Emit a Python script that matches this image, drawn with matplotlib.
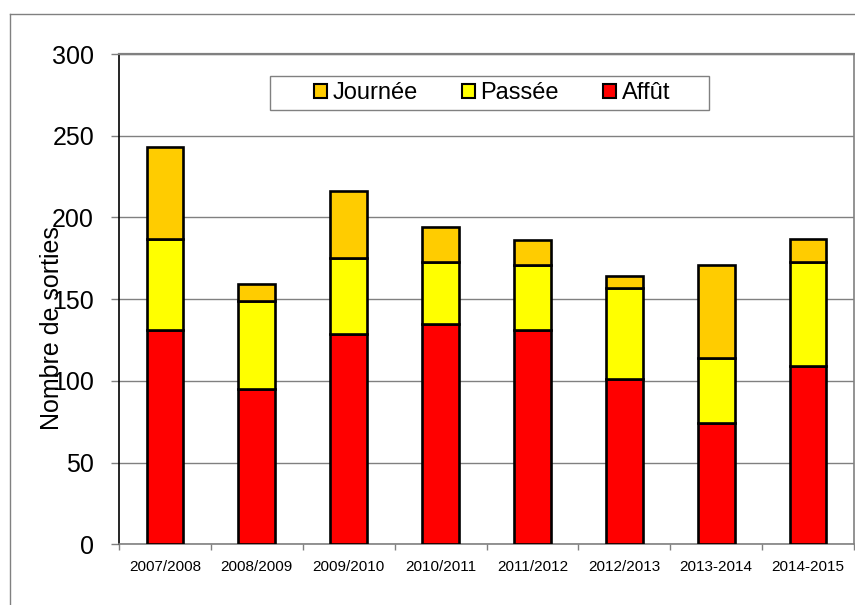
import numpy as np
import matplotlib.pyplot as plt
from matplotlib.patches import Rectangle
from matplotlib.lines import Line2D
from matplotlib.ticker import FixedLocator

plt.rcParams['font.family'] = ['Liberation Sans', 'DejaVu Sans']

# data
saisons = ['2007/2008', '2008/2009', '2009/2010', '2010/2011',
           '2011/2012', '2012/2013', '2013-2014', '2014-2015']
affut = [131, 95, 129, 135, 131, 101, 74, 109]
passee = [56, 54, 46, 38, 40, 56, 40, 64]
journee = [56, 10, 41, 21, 15, 7, 57, 14]

fig = plt.figure(figsize=(8.55, 6.05), dpi=100)
ax = fig.add_axes([119/855, 1-544.4/605, (854-119)/855, (544.4-54)/605])

x = np.arange(len(saisons))
w = 0.40
bot2 = np.array(affut)
bot3 = bot2 + np.array(passee)

b1 = ax.bar(x, affut, w, color='#FF0000', edgecolor='black', linewidth=1.9, zorder=3, label='Affût')
b2 = ax.bar(x, passee, w, bottom=bot2, color='#FFFF00', edgecolor='black', linewidth=1.9, zorder=3, label='Passée')
b3 = ax.bar(x, journee, w, bottom=bot3, color='#FFCC00', edgecolor='black', linewidth=1.9, zorder=3, label='Journée')

ax.set_xlim(-0.5, len(saisons) - 0.5)
ax.set_ylim(0, 300)
ax.set_yticks(range(0, 301, 50))
ax.tick_params(axis='y', labelsize=18, length=6, width=1, color='#808080', pad=12)
ax.yaxis.grid(True, color='#808080', linewidth=1, zorder=0)

ax.set_xticks(x)
ax.set_xticklabels(saisons, fontsize=11)
ax.tick_params(axis='x', length=0, pad=11)
ax.xaxis.set_minor_locator(FixedLocator(np.arange(-0.5, len(saisons), 1)))
ax.tick_params(axis='x', which='minor', length=4, width=1, color='#808080')

for s in ['top', 'right', 'bottom']:
    ax.spines[s].set_color('#808080')
ax.spines['top'].set_linewidth(1.6)
ax.spines['right'].set_linewidth(1.2)
ax.spines['bottom'].set_linewidth(1.2)
ax.spines['left'].set_color('black')
ax.spines['left'].set_linewidth(1.2)

# legend
leg = fig.legend([b3, b2, b1], ['Journée', 'Passée', 'Affût'], ncol=3,
                 loc='center', bbox_to_anchor=(492/855, 1-93/605),
                 frameon=False, fontsize=17, handlelength=0.55, handleheight=0.55,
                 handletextpad=0.25, columnspacing=1.85)
for h in leg.legend_handles:
    h.set_linewidth(1.5)
fig.add_artist(Rectangle((270/855, 1-110/605), (709-270)/855, 34/605,
                         transform=fig.transFigure, fill=False,
                         edgecolor='#808080', linewidth=1))

fig.text(52/855, 1-328/605, 'Nombre de sorties', rotation=90,
         ha='center', va='center', fontsize=18)

# outer chart frame
fig.add_artist(Line2D([10/855, 10/855], [0, 1-14/605], transform=fig.transFigure,
                      color='#808080', linewidth=1))
fig.add_artist(Line2D([10/855, 1], [1-14/605, 1-14/605], transform=fig.transFigure,
                      color='#808080', linewidth=1))

plt.savefig('out.png', dpi=100)
